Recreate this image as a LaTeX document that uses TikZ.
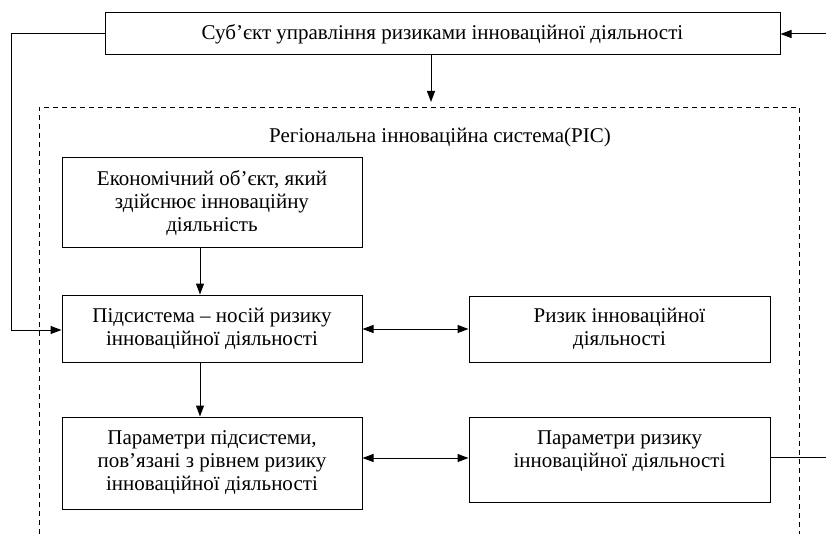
\documentclass[tikz,border=0pt]{standalone}
\usepackage{fontspec}
\setmainfont{Liberation Serif}
\usetikzlibrary{arrows.meta,calc}
\begin{document}
\begin{tikzpicture}[x=1pt,y=-1pt,
  txt/.style={align=center,inner sep=0pt,font=\fontsize{21}{23}\selectfont},
  box/.style={draw,line width=1pt,align=center,inner sep=2pt,font=\fontsize{21}{23}\selectfont},
  arr/.style={line width=1pt,-{Triangle[length=11pt,width=8pt]}},
  darr/.style={line width=1pt,{Triangle[length=11pt,width=8pt]}-{Triangle[length=11pt,width=8pt]}},
  ln/.style={line width=1pt},
  frame/.style={line width=0.9pt,dash pattern=on 5pt off 4pt}]
\useasboundingbox (0,0) rectangle (826,534);
\node[box,minimum width=675pt,minimum height=42pt] (top) at (442.5,34) {Суб’єкт управління ризиками інноваційної діяльності};
\coordinate (f1) at (39,534);
\coordinate (f2) at (39,107);
\coordinate (f3) at (799,107);
\coordinate (f4) at (799,534);
\draw[frame] (f1) -- (f2) -- (f3) -- (f4);
\node[txt] (lbl) at (440,137) {Регіональна інноваційна система(РІС)};
\node[box,minimum width=300pt,minimum height=90pt] (b1) at (212,203) {Економічний об’єкт, який\\здійснює інноваційну\\діяльність};
\node[box,minimum width=300pt,minimum height=67pt] (b2) at (212,328.5) {Підсистема – носій ризику\\інноваційної діяльності};
\node[box,minimum width=301pt,minimum height=66pt] (b3) at (619.5,329) {Ризик інноваційної\\діяльності};
\node[box,minimum width=300pt,minimum height=92pt] (b4) at (212,463) {Параметри підсистеми,\\пов’язані з рівнем ризику\\інноваційної діяльності};
\node[box,minimum width=301pt,minimum height=85pt] (b5) at (619.5,459.5) {};
\node[txt] (b5t) at (619.5,451) {Параметри ризику\\інноваційної діяльності};
\coordinate (ax) at (200,0);
\coordinate (tx) at (431,102);
\coordinate (l1) at (11,34);
\coordinate (l2) at (11,330);
\coordinate (r1) at (826,34);
\coordinate (r2) at (826,457);
\draw[arr] (top.south -| tx) -- (tx);
\draw[arr] (b1.south -| ax) -- (b2.north -| ax);
\draw[arr] (b2.south -| ax) -- (b4.north -| ax);
\draw[ln] (top.west) -- (l1);
\draw[arr] (l1) -- (l2) -- (l2 -| b2.west);
\draw[arr] (r1) -- (r1 -| top.east);
\draw[darr] (b2.east |- 0,329) -- (b3.west |- 0,329);
\draw[darr] (b4.east |- 0,458) -- (b5.west |- 0,458);
\draw[ln] (b5.east |- r2) -- (r2);
\end{tikzpicture}
\end{document}
